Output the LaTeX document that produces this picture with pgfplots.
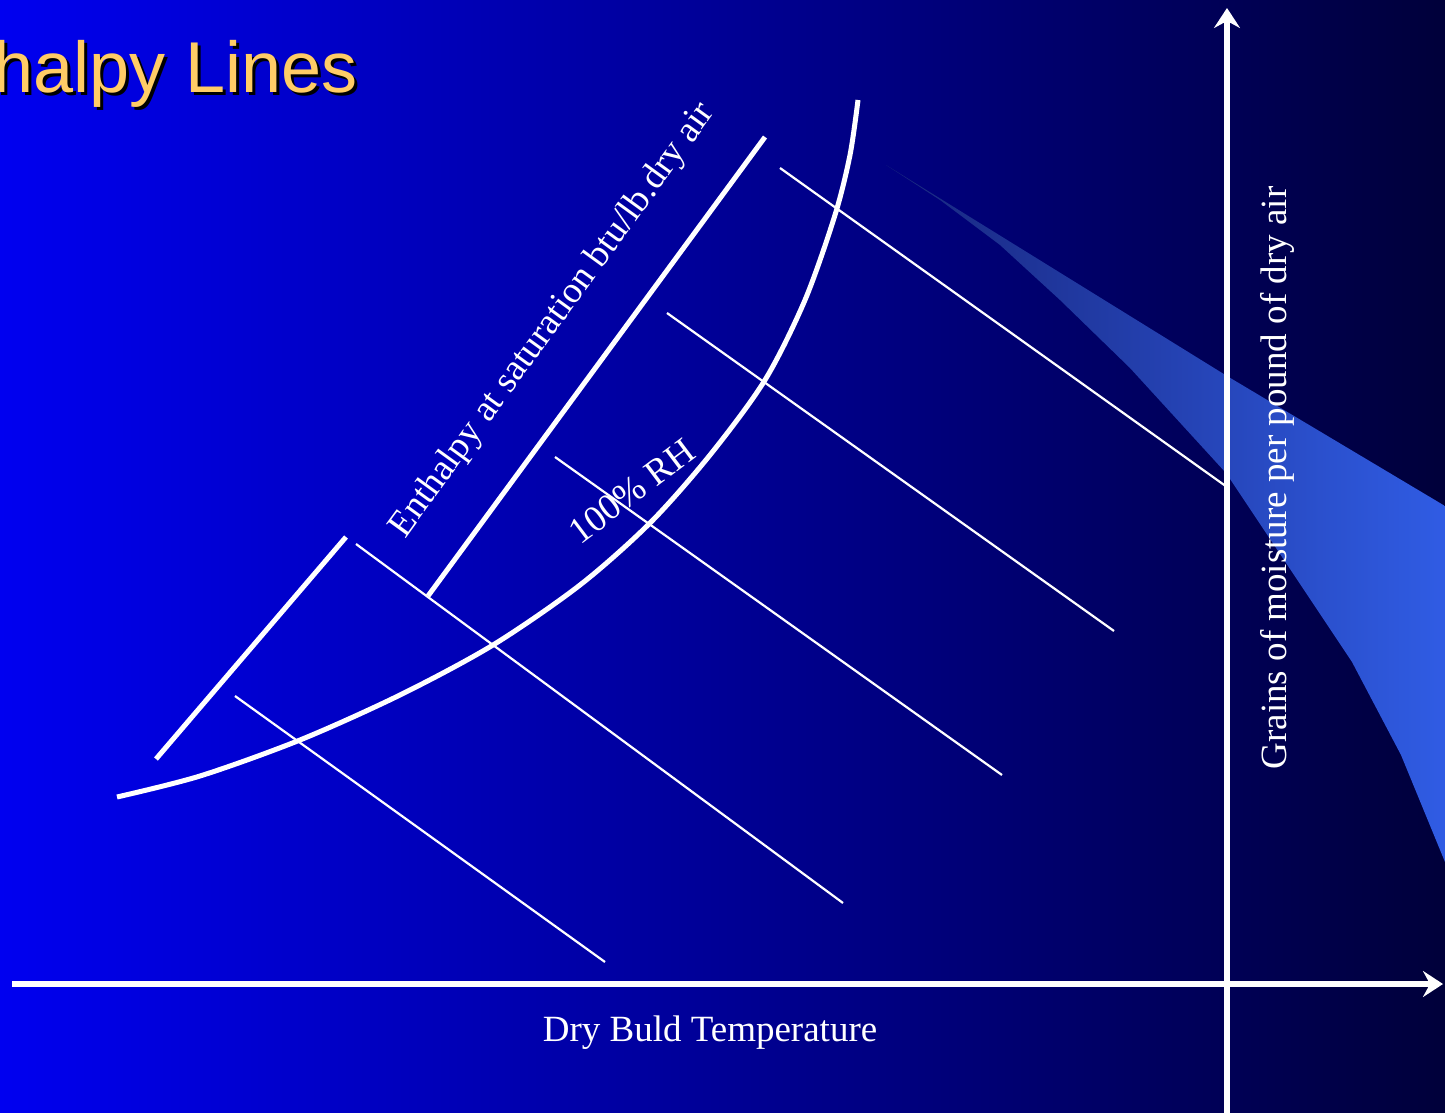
\documentclass[border=0pt]{standalone}
\usepackage{pgfplots}
\pgfplotsset{compat=1.18}
\usepackage{fontspec}
\setmainfont{Liberation Serif}
\newfontfamily\arialfont{Liberation Sans}
\usetikzlibrary{arrows.meta}
\definecolor{bgleft}{RGB}{0,0,240}
\definecolor{bgmid}{RGB}{0,0,165}
\definecolor{bgright}{RGB}{0,0,58}
\definecolor{bandleft}{RGB}{24,38,125}
\definecolor{bandright}{RGB}{48,92,228}
\definecolor{titlecol}{RGB}{255,204,102}

\begin{document}
\begin{tikzpicture}
\begin{axis}[
    width=722.5pt, height=556.5pt, scale only axis,
    xmin=0, xmax=1445, ymin=0, ymax=1113,
    y dir=reverse,
    hide axis, clip=false,
]
% slide background
\addplot[draw=none, left color=bgleft, middle color=bgmid, right color=bgright]
    coordinates {(0,0) (1445,0) (1445,1113) (0,1113)} -- cycle;

% light blue band on the right
\addplot[draw=none, left color=bandleft, right color=bandright]
    coordinates {(886,165) (1227,376) (1445,506) (1445,862) (1401,755)
                 (1352,662) (1226,473) (1130,368) (1060,300) (1000,245) (940,200)} -- cycle;

% constant enthalpy lines
\addplot[white, line width=1.1pt] coordinates {(235,696) (605,962)};
\addplot[white, line width=1.1pt] coordinates {(356,544) (843,903)};
\addplot[white, line width=1.1pt] coordinates {(555,457) (1002,775)};
\addplot[white, line width=1.1pt] coordinates {(667,313) (1114,631)};
\addplot[white, line width=1.1pt] coordinates {(780,168) (1227,487)};

% enthalpy scales
\addplot[white, line width=2.5pt] coordinates {(156,759) (346,537)};
\addplot[white, line width=2.5pt] coordinates {(428,596) (765,137)};

% saturation curve
\addplot[white, line width=2.5pt, smooth] coordinates {
    (117,797) (200,776) (300,740) (400,695) (493,645) (580,585)
    (650,523) (710,455) (765,380) (805,300) (835,215) (850,155) (858,100)};

% axes
\addplot[white, line width=2.75pt, -{Stealth[length=10pt, width=13pt, inset=3.5pt]}]
    coordinates {(12,984) (1443,984)};
\addplot[white, line width=2.75pt, -{Stealth[length=10pt, width=13pt, inset=3.5pt]}]
    coordinates {(1227,1113) (1227,8)};

% labels
\node[font=\fontsize{18.5}{20}\selectfont, text=white] at (710,1033) {Dry Buld Temperature};
\node[font=\fontsize{18.5}{20}\selectfont, text=white, rotate=90] at (1277,478)
    {Grains of moisture per pound of dry air};
\node[font=\fontsize{18.5}{20}\selectfont, text=white, rotate=54, anchor=base, inner sep=0pt]
    at (560,326) {Enthalpy at saturation btu/lb.dry air};
\node[font=\fontsize{18.5}{20}\selectfont, text=white, rotate=37, anchor=base, inner sep=0pt]
    at (639,501) {100\% RH};

% title (cut off at the left edge of the slide)
\node[overlay, anchor=base east, inner sep=0pt, text=black,
      font=\arialfont\fontsize{36}{40}\selectfont] at (361,96) {Enthalpy Lines};
\node[overlay, anchor=base east, inner sep=0pt, text=titlecol,
      font=\arialfont\fontsize{36}{40}\selectfont] at (358,93) {Enthalpy Lines};
\end{axis}
\pgfresetboundingbox
\path[use as bounding box] (current axis.south west) rectangle (current axis.north east);
\end{tikzpicture}
\end{document}
